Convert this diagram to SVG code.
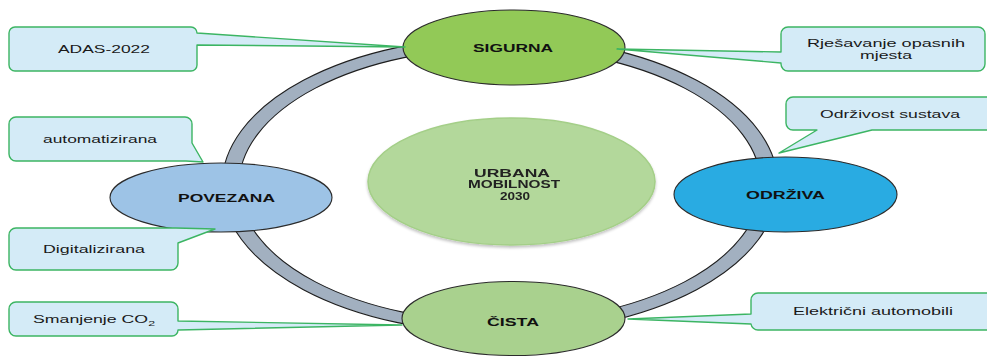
<svg xmlns="http://www.w3.org/2000/svg" width="987" height="357" viewBox="0 0 987 357">
  <style>
    .ring { fill: #a2b0c0; stroke: #1e1e1e; stroke-width: 1.1; fill-rule: evenodd; }
    .node { stroke: #2b2b2b; stroke-width: 1.1; }
    .hub { fill: #b3d89b; stroke: #a4cf88; stroke-width: 1.5; }
    .callout { fill: #d4ebf7; stroke: #3cb563; stroke-width: 1.4; stroke-linejoin: round; }
    .lbl { font-family: "Liberation Sans", Arial, sans-serif; font-weight: bold; font-size: 11.5px; fill: #111; text-anchor: middle; }
    .hubtxt { font-family: "Liberation Sans", Arial, sans-serif; font-weight: bold; font-size: 10.5px; fill: #222; text-anchor: middle; }
    .ctxt { font-family: "Liberation Sans", Arial, sans-serif; font-size: 11.5px; fill: #1a1a1a; text-anchor: middle; }
  </style>
  <defs>
    <filter id="soft" x="-10%" y="-10%" width="120%" height="130%">
      <feGaussianBlur in="SourceAlpha" stdDeviation="1.5"/>
      <feOffset dx="0" dy="1.5" result="b"/>
      <feComponentTransfer><feFuncA type="linear" slope="0.25"/></feComponentTransfer>
      <feMerge><feMergeNode/><feMergeNode in="SourceGraphic"/></feMerge>
    </filter>
  </defs>

  <rect width="987" height="357" fill="#ffffff"/>

  <!-- cycle ring joining the four nodes -->
  <g id="connectors">
    <path class="ring" d="M222,185 A278,148 0 1 0 778,185 A278,148 0 1 0 222,185 Z M239,185 A261,137 0 1 0 761,185 A261,137 0 1 0 239,185 Z"/>
  </g>

  <!-- central hub -->
  <g id="hub" filter="url(#soft)">
    <ellipse class="hub" cx="511.5" cy="181.5" rx="143.5" ry="63.5"/>
    <text class="hubtxt" x="512" y="176.5" textLength="76" lengthAdjust="spacingAndGlyphs">URBANA</text>
    <text class="hubtxt" x="514" y="188" textLength="92" lengthAdjust="spacingAndGlyphs">MOBILNOST</text>
    <text class="hubtxt" x="515" y="199.5" textLength="30" lengthAdjust="spacingAndGlyphs">2030</text>
  </g>

  <!-- cycle nodes -->
  <g id="sigurna">
    <ellipse class="node" cx="514" cy="47.5" rx="111" ry="37.5" fill="#92c957"/>
    <text class="lbl" x="513" y="52" textLength="80" lengthAdjust="spacingAndGlyphs">SIGURNA</text>
  </g>
  <g id="povezana">
    <ellipse class="node" cx="221" cy="197.5" rx="111" ry="34.5" fill="#9dc3e6"/>
    <text class="lbl" x="226.5" y="201.5" textLength="97" lengthAdjust="spacingAndGlyphs">POVEZANA</text>
  </g>
  <g id="odrziva">
    <ellipse class="node" cx="785.5" cy="194.5" rx="111.5" ry="37.5" fill="#29abe2"/>
    <text class="lbl" x="785.5" y="199" textLength="79" lengthAdjust="spacingAndGlyphs">ODRŽIVA</text>
  </g>
  <g id="cista">
    <ellipse class="node" cx="513.5" cy="318.5" rx="111.5" ry="37" fill="#a9d18e"/>
    <text class="lbl" x="513" y="326" textLength="52" lengthAdjust="spacingAndGlyphs">ČISTA</text>
  </g>

  <!-- callouts -->
  <g id="callout-adas">
    <path class="callout" d="M15,27 H191 A6,6 0 0 1 197,33 L405,47 L197,45 V65 A6,6 0 0 1 191,71 H15 A6,6 0 0 1 9,65 V33 A6,6 0 0 1 15,27 Z"/>
    <text class="ctxt" x="104" y="53" textLength="92" lengthAdjust="spacingAndGlyphs">ADAS-2022</text>
  </g>
  <g id="callout-rjesavanje">
    <path class="callout" d="M788,27 H978 A7,7 0 0 1 985,34 V64 A7,7 0 0 1 978,71 H788 A7,7 0 0 1 781,64 V63 L617,49 L781,52 V34 A7,7 0 0 1 788,27 Z"/>
    <text class="ctxt" x="886" y="47" textLength="158" lengthAdjust="spacingAndGlyphs">Rješavanje  opasnih</text>
    <text class="ctxt" x="886" y="59" textLength="52" lengthAdjust="spacingAndGlyphs">mjesta</text>
  </g>
  <g id="callout-odrzivost">
    <path class="callout" d="M793,97 H994 V130 H872 L779,153 L817,130 H793 A7,7 0 0 1 786,123 V104 A7,7 0 0 1 793,97 Z"/>
    <text class="ctxt" x="890" y="118" textLength="140" lengthAdjust="spacingAndGlyphs">Održivost sustava</text>
  </g>
  <g id="callout-automatizirana">
    <path class="callout" d="M16,117 H185 A7,7 0 0 1 192,124 V143 L203,162 L186,161 H16 A7,7 0 0 1 9,154 V124 A7,7 0 0 1 16,117 Z"/>
    <text class="ctxt" x="100" y="143" textLength="114" lengthAdjust="spacingAndGlyphs">automatizirana</text>
  </g>
  <g id="callout-digitalizirana">
    <path class="callout" d="M16,228 H176 L215,229 L178,243 V263 A7,7 0 0 1 171,270 H16 A7,7 0 0 1 9,263 V235 A7,7 0 0 1 16,228 Z"/>
    <text class="ctxt" x="94" y="253" textLength="102" lengthAdjust="spacingAndGlyphs">Digitalizirana</text>
  </g>
  <g id="callout-smanjenje">
    <path class="callout" d="M16,302 H171 A7,7 0 0 1 178,309 V321 L402,325 L178,330 A6,6 0 0 1 172,336 H16 A7,7 0 0 1 9,329 V309 A7,7 0 0 1 16,302 Z"/>
    <text class="ctxt" x="94" y="323" textLength="122" lengthAdjust="spacingAndGlyphs">Smanjenje CO<tspan font-size="8px" dy="3">2</tspan></text>
  </g>
  <g id="callout-elektricni">
    <path class="callout" d="M758,293 H994 V330 H758 A7,7 0 0 1 751,324 L628,319 L751,314 V300 A7,7 0 0 1 758,293 Z"/>
    <text class="ctxt" x="873" y="315" textLength="160" lengthAdjust="spacingAndGlyphs">Električni  automobili</text>
  </g>
</svg>
